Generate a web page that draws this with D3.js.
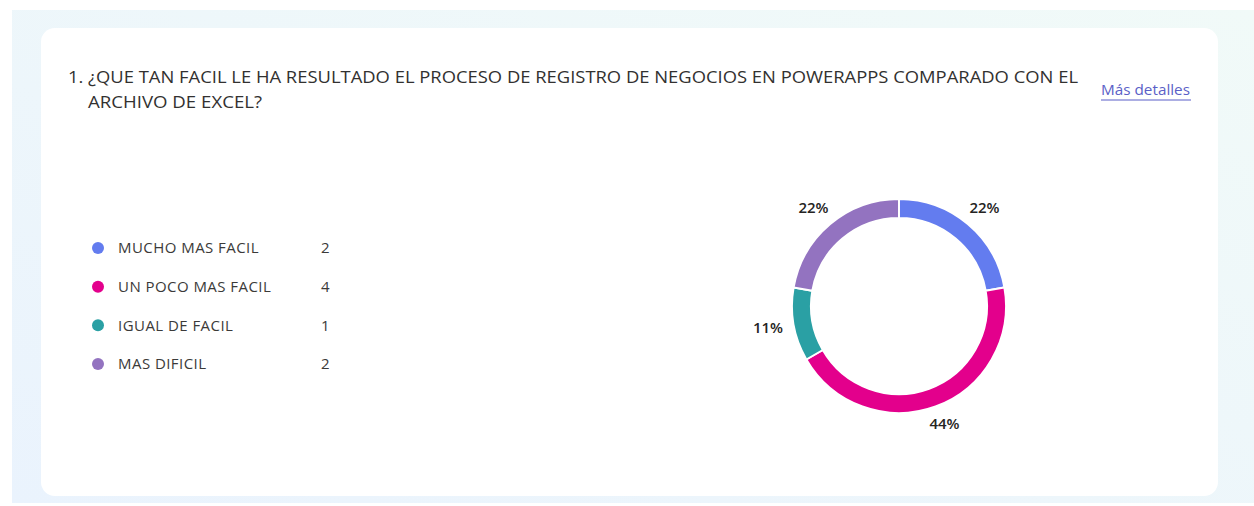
<!DOCTYPE html>
<html>
<head>
<meta charset="utf-8">
<script src="https://cdn.jsdelivr.net/npm/d3@7"></script>
<style>
  body { margin: 0; background: #fff; }
  svg { display: block; }
</style>
</head>
<body>
<svg id="chart" width="1254" height="506"></svg>
<script>
// data
const categories = ["MUCHO MAS FACIL", "UN POCO MAS FACIL", "IGUAL DE FACIL", "MAS DIFICIL"];
const counts = [2, 4, 1, 2];
const colors = ["#637cef", "#e3008c", "#2aa0a4", "#9373c0"];
const titleLines = [
  "1. ¿QUE TAN FACIL LE HA RESULTADO EL PROCESO DE REGISTRO DE NEGOCIOS EN POWERAPPS COMPARADO CON EL",
  "ARCHIVO DE EXCEL?"
];
const linkText = "Más detalles";

const svg = d3.select("svg#chart");
const font = "'Open Sans', 'Noto Sans', sans-serif";

// page background
const defs = svg.append("defs");
const grad = defs.append("linearGradient")
  .attr("id", "bg")
  .attr("x1", "0%").attr("y1", "100%")
  .attr("x2", "100%").attr("y2", "0%");
grad.append("stop").attr("offset", "0%").attr("stop-color", "#eaf3fd");
grad.append("stop").attr("offset", "100%").attr("stop-color", "#f1faf8");

svg.append("rect")
  .attr("x", 12).attr("y", 10)
  .attr("width", 1242).attr("height", 493)
  .attr("fill", "url(#bg)");

// card
svg.append("rect")
  .attr("x", 41).attr("y", 28)
  .attr("width", 1177).attr("height", 468)
  .attr("rx", 14)
  .attr("fill", "#ffffff");

// title
const title = svg.append("text")
  .attr("font-family", font)
  .attr("font-size", 16.5)
  .attr("fill", "#323130");
title.append("tspan").attr("x", 68).attr("y", 83).text(titleLines[0])
  .attr("textLength", 1010).attr("lengthAdjust", "spacingAndGlyphs");
title.append("tspan").attr("x", 88).attr("y", 108).text(titleLines[1])
  .attr("textLength", 174).attr("lengthAdjust", "spacingAndGlyphs");

// link
svg.append("text")
  .attr("x", 1101).attr("y", 95)
  .attr("font-family", font)
  .attr("font-size", 15)
  .attr("fill", "#5b5fc7")
  .attr("textLength", 89).attr("lengthAdjust", "spacingAndGlyphs")
  .text(linkText);
svg.append("line")
  .attr("x1", 1101).attr("x2", 1191)
  .attr("y1", 100).attr("y2", 100)
  .attr("stroke", "#5b5fc7")
  .attr("stroke-width", 1.2);

// legend
const yLegend = d3.scalePoint()
  .domain(categories)
  .range([248, 364]);

const legend = svg.append("g").attr("class", "legend");
const rows = legend.selectAll("g.row")
  .data(categories)
  .join("g")
  .attr("class", "row")
  .attr("transform", (d) => `translate(0, ${yLegend(d)})`);

rows.append("circle")
  .attr("cx", 98).attr("cy", 0).attr("r", 6)
  .attr("fill", (d, i) => colors[i]);
rows.append("text")
  .attr("x", 118).attr("dy", "0.36em")
  .attr("font-family", font)
  .attr("font-size", 15)
  .attr("letter-spacing", 0.45)
  .attr("fill", "#3b3a39")
  .text((d) => d);
rows.append("text")
  .attr("x", 321).attr("dy", "0.36em")
  .attr("font-family", font)
  .attr("font-size", 15)
  .attr("fill", "#3b3a39")
  .text((d, i) => counts[i]);

// donut
const cx = 899, cy = 306;
const outerR = 107, innerR = 88, labelR = 125;
const total = d3.sum(counts);

const pie = d3.pie().sort(null).value((d) => d);
const arcs = pie(counts);
const arc = d3.arc().innerRadius(innerR).outerRadius(outerR);
const labelArc = d3.arc().innerRadius(labelR).outerRadius(labelR);

const donut = svg.append("g").attr("transform", `translate(${cx}, ${cy})`);
donut.selectAll("path")
  .data(arcs)
  .join("path")
  .attr("d", arc)
  .attr("fill", (d, i) => colors[i])
  .attr("stroke", "#ffffff")
  .attr("stroke-width", 2);

donut.selectAll("text")
  .data(arcs)
  .join("text")
  .attr("transform", (d) => {
    const [x, y] = labelArc.centroid(d);
    const mid = (d.startAngle + d.endAngle) / 2;
    // nudge labels outward: more sideways, a little up for the top half
    const dy = Math.cos(mid) > 0 ? -Math.cos(mid) * 4 : 0;
    return `translate(${x + Math.sin(mid) * 8}, ${y + dy})`;
  })
  .attr("text-anchor", "middle")
  .attr("dy", "0.36em")
  .attr("font-family", font)
  .attr("font-size", 15)
  .attr("font-weight", 600)
  .attr("fill", "#252423")
  .text((d) => Math.round((d.data / total) * 100) + "%");
</script>
</body>
</html>
